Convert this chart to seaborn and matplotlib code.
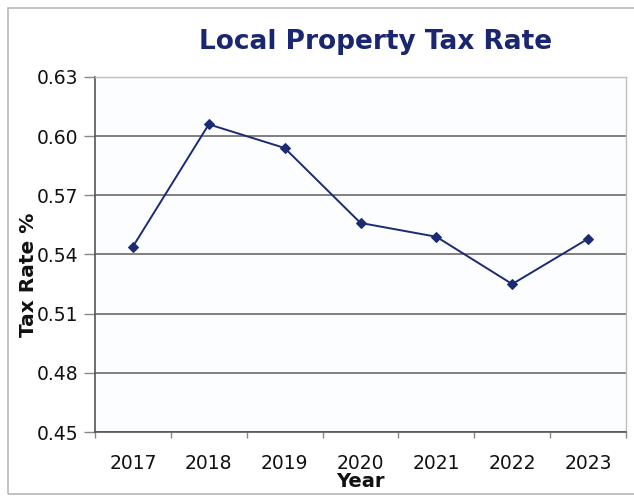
import matplotlib
matplotlib.use("Agg")
import matplotlib.pyplot as plt
import matplotlib.patches as mpatches
import seaborn as sns
import pandas as pd
import numpy as np

years = ["2017", "2018", "2019", "2020", "2021", "2022", "2023"]
tax_rate = [0.544, 0.606, 0.594, 0.556, 0.549, 0.525, 0.548]
y_ticks = [0.45, 0.48, 0.51, 0.54, 0.57, 0.60, 0.63]

df = pd.DataFrame({"Year": years, "Tax Rate %": tax_rate})

sns.set_theme(style="white")
plt.rcParams["font.family"] = ["DejaVu Sans"]

fig = plt.figure(figsize=(6.34, 4.98), dpi=100)
fig.patch.set_facecolor("white")

# chart-area frame
frame = mpatches.Rectangle((8 / 634, 1 - 494 / 498), 660 / 634, (494 - 8) / 498,
                           transform=fig.transFigure, fill=False,
                           edgecolor="#b8b8b8", linewidth=1.2)
fig.patches.append(frame)

ax = fig.add_axes([95 / 634, 1 - 432 / 498, (626 - 95) / 634, (432 - 77) / 498])
ax.set_facecolor("#fbfdfe")

navy = "#1c2a74"
sns.lineplot(data=df, x="Year", y="Tax Rate %", ax=ax, color=navy,
             linewidth=1.4, marker="D", markersize=5.5, markeredgecolor=navy,
             sort=False)

ax.set_ylim(0.45, 0.63)
ax.set_yticks(y_ticks)
ax.set_yticklabels([f"{v:.2f}" for v in y_ticks])
ax.set_xlim(-0.5, len(years) - 0.5)
ax.set_xticks(range(len(years)))
ax.set_xticks(np.arange(-0.5, len(years), 1.0), minor=True)

ax.yaxis.grid(True, color="#6a6a6a", linewidth=1.2)
ax.xaxis.grid(False)
ax.set_axisbelow(True)

for side in ["top", "right"]:
    ax.spines[side].set_color("#c0c0c0")
    ax.spines[side].set_linewidth(1.0)
for side in ["left", "bottom"]:
    ax.spines[side].set_color("#555555")
    ax.spines[side].set_linewidth(1.2)

ax.tick_params(axis="y", which="major", direction="out", length=8, width=1,
               color="#888888", labelsize=13.5, pad=4, left=True, labelcolor="#111111")
ax.tick_params(axis="x", which="major", length=0, labelsize=13.5, pad=16,
               labelcolor="#111111")
ax.tick_params(axis="x", which="minor", direction="out", length=4, width=1,
               color="#888888", bottom=True)

ax.set_xlabel("")
ax.set_ylabel("")
fig.text(360 / 634, 1 - 481 / 498, "Year", fontsize=14, fontweight="bold",
         ha="center", va="center", color="#111111")
fig.text(29 / 634, 1 - 275 / 498, "Tax Rate %", rotation=90, fontsize=14.5,
         fontweight="bold", ha="center", va="center", color="#111111")

fig.text(376 / 634, 1 - 42 / 498, "Local Property Tax Rate", fontsize=19,
         fontweight="bold", color="#1a2670", ha="center", va="center")

fig.savefig("out.png", dpi=100)
